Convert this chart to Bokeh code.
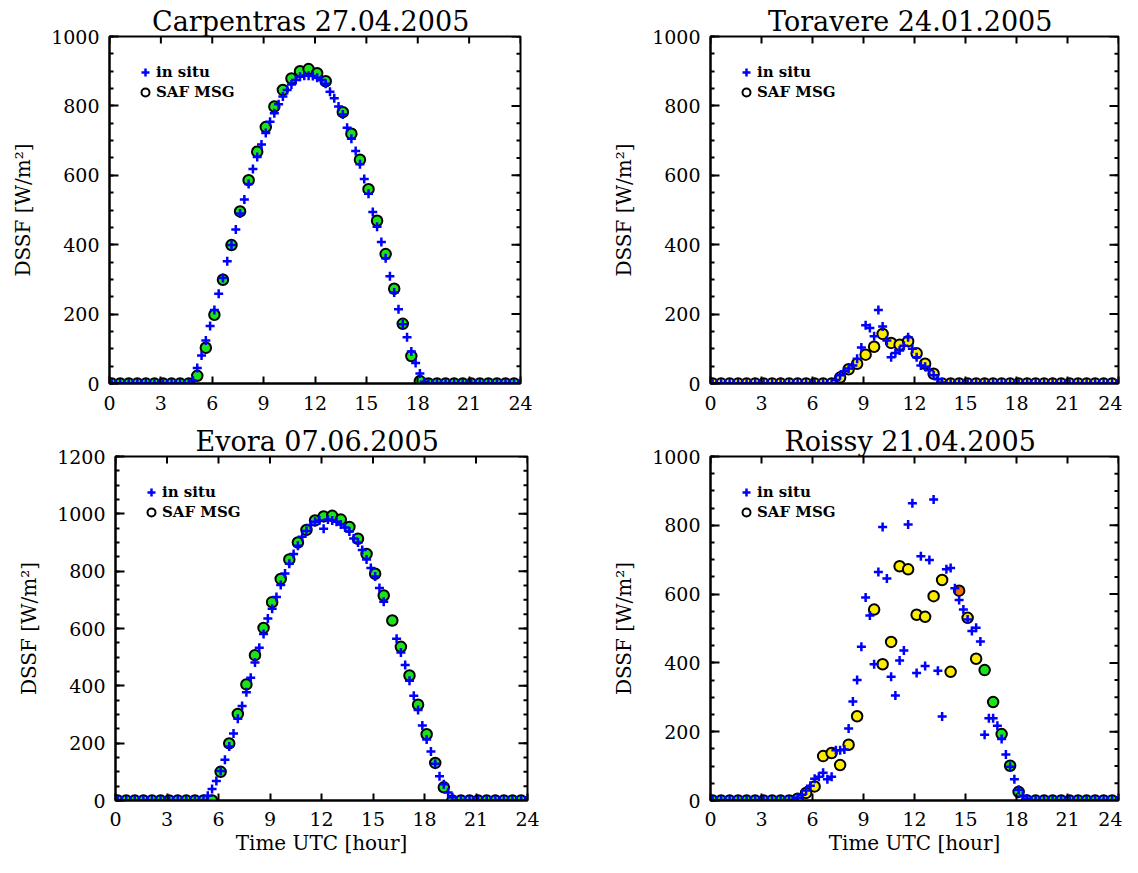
import numpy as np
from bokeh.plotting import figure
from bokeh.models import (ColumnDataSource, Range1d, FixedTicker, Legend,
                          LegendItem)
from bokeh.layouts import column, row
from bokeh.embed import file_html
from bokeh.resources import INLINE

NAN = float("nan")
FONT = "DejaVu Serif"

# sampling grids (hours UTC): in situ every 15 min, SAF MSG every 30 min
hours_insitu = [0.125 + 0.25 * k for k in range(96)]
hours_msg = [0.125 + 0.5 * k for k in range(48)]

x_ticks = [0, 3, 6, 9, 12, 15, 18, 21, 24]

# ---------------- Carpentras 27.04.2005 ----------------
carp_insitu = [0] * 19 + [
    8, 45, 81, 124, 166, 212, 259, 304, 352, 399, 444, 490, 530, 575, 618,
    653, 689, 722, 754, 779, 805, 827, 846, 862, 875, 884, 887, 887, 886,
    881, 875, 864, 841, 822, 798, 775, 737, 705, 670, 632, 589, 547, 494,
    452, 408, 361, 309, 262, 214, 171, 133, 92, 59, 29, 5] + [0] * 22
carp_msg = [0] * 10 + [
    22, 103, 198, 299, 399, 496, 586, 668, 739, 798, 846, 879, 900, 906,
    894, 871, NAN, 782, 720, 645, 560, 469, 373, 273, 172, 79, 7] + [0] * 11
carp_class = ["clear"] * 48

# ---------------- Toravere 24.01.2005 ----------------
tora_insitu = [0] * 29 + [
    10, 24, 35, 43, 52, 71, 104, 168, 160, 136, 212, 164, 124, 76, 88, 95,
    109, 133, 100, 76, 52, 48, 38, 24, 12, 3] + [0] * 41
tora_msg = [0] * 15 + [
    17, 41, 57, 83, 106, 143, 117, 112, 122, 87, 57, 28] + [0] * 21
tora_class = ["cloudy"] * 48

# ---------------- Evora 07.06.2005 ----------------
evor_insitu = [0] * 21 + [
    17, 40, 68, 103, 142, 188, 234, 285, 330, 378, 428, 481, 533, 581, 635,
    669, 710, 752, 792, 826, 860, 889, 920, 940, 961, 972, 977, 948, 980,
    977, 972, 963, 952, 938, 914, 900, 874, 841, 811, 781, 741, 693, NAN,
    NAN, 564, 516, 473, 418, 365, 316, 262, 213, 171, 128, 85, 57, 28,
    11] + [0] * 17
evor_msg = [0] * 12 + [
    100, 199, 302, 405, 507, 602, 692, 773, 841, 900, 944, 977, 991, 993,
    980, 954, 913, 860, 791, 715, 628, 536, 436, 334, 231, 131, 46] + [0] * 9
evor_class = ["clear"] * 48

# ---------------- Roissy 21.04.2005 ----------------
rois_insitu = [0] * 20 + [
    8, 17, 29, 43, 63, 69, 81, 62, 69, 146, 146, 148, 209, 288, 350, 447,
    590, 538, 396, 664, 795, 645, 360, 305, 407, 436, 802, 864, 371, 710,
    391, 699, 875, 377, 244, 672, 676, 617, 583, 555, 526, 493, 502, 462,
    191, 239, 239, 217, 179, 134, 98, 62, 31, 14, 5] + [0] * 21
rois_msg = [0] * 10 + [
    5, 22, 41, 129, 138, 103, 162, 245, NAN, 555, 396, 461, 681, 672, 540,
    534, 594, 641, 374, 610, 531, 412, 379, 286, 193, 101, 25, 0] + [0] * 10
rois_class = (["clear"] * 11 + ["cloudy"] * 18 + ["partly"] +
              ["cloudy"] * 2 + ["clear"] * 16)

for arr in (carp_insitu, tora_insitu, evor_insitu, rois_insitu):
    assert len(arr) == 96, len(arr)
for arr in (carp_msg, tora_msg, evor_msg, rois_msg, carp_class, tora_class,
            evor_class, rois_class):
    assert len(arr) == 48, len(arr)

CLASS_COLORS = {"clear": "#18e418", "cloudy": "#fbec00", "partly": "#f07400"}
BLUE = "#0000ff"


def make_panel(title, insitu, msg, cls, ymax, width, height, bl, br, bt, bb,
               xlabel, tick_standoff, label_standoff):
    p = figure(width=width, height=height, output_backend="svg",
               toolbar_location=None, x_range=Range1d(0, 24),
               y_range=Range1d(0, ymax),
               min_border_left=bl, min_border_right=br,
               min_border_top=bt, min_border_bottom=bb,
               x_axis_label=xlabel, y_axis_label="DSSF [W/m²]")
    p.title.text = title
    p.title.align = "center"
    p.title.text_font = FONT
    p.title.text_font_size = "27px"
    p.title.text_font_style = "normal"
    p.title.text_color = "black"
    p.title.standoff = 0
    p.grid.visible = False
    p.outline_line_color = "black"
    p.outline_line_width = 2
    p.background_fill_color = "white"
    p.border_fill_color = "white"

    xt = FixedTicker(ticks=x_ticks, minor_ticks=[])
    y_major = list(range(0, ymax + 1, 200))
    y_minor = list(range(0, ymax + 1, 50))
    yt = FixedTicker(ticks=y_major, minor_ticks=y_minor)

    def style(ax, ticker):
        ax.ticker = ticker
        ax.axis_line_color = "black"
        ax.axis_line_width = 2
        ax.major_tick_line_color = "black"
        ax.major_tick_line_width = 2
        ax.minor_tick_line_color = "black"
        ax.minor_tick_line_width = 2
        ax.major_tick_out = 0
        ax.minor_tick_out = 0
        ax.major_label_text_font = FONT
        ax.major_label_text_color = "black"
        ax.major_label_text_font_size = "19px"
        ax.axis_label_text_font = FONT
        ax.axis_label_text_font_style = "normal"
        ax.axis_label_text_color = "black"
        ax.axis_label_text_font_size = "20px"

    for ax in p.xaxis:
        style(ax, xt)
        ax.major_tick_in = 7
        ax.major_label_standoff = tick_standoff
        ax.axis_label_standoff = label_standoff
        ax.axis_label_text_line_height = 0.7
    for ax in p.yaxis:
        style(ax, yt)
        ax.major_tick_in = 9
        ax.minor_tick_in = 4
        ax.major_label_standoff = 10
        ax.axis_label_standoff = 13

    # mirrored inward ticks on the top and right edges of the box
    p.ray(x=x_ticks, y=[ymax] * len(x_ticks), length=7, length_units="screen",
          angle=-90, angle_units="deg", line_color="black", line_width=2)
    p.ray(x=[24] * len(y_major), y=y_major, length=9, length_units="screen",
          angle=180, angle_units="deg", line_color="black", line_width=2)
    p.ray(x=[24] * len(y_minor), y=y_minor, length=4, length_units="screen",
          angle=180, angle_units="deg", line_color="black", line_width=2)

    msg_src = ColumnDataSource(dict(
        t=np.array(hours_msg, dtype=float), v=np.array(msg, dtype=float),
        c=[CLASS_COLORS[k] for k in cls]))
    ins_src = ColumnDataSource(dict(
        t=np.array(hours_insitu, dtype=float),
        v=np.array(insitu, dtype=float)))

    p.scatter("t", "v", source=msg_src, marker="circle", size=10.5,
              fill_color="c", line_color="black", line_width=2)
    p.scatter("t", "v", source=ins_src, marker="cross", size=9,
              line_color=BLUE, line_width=2.5)

    leg_plus = p.scatter([NAN], [NAN], marker="cross", size=9,
                         line_color=BLUE, line_width=2.5)
    leg_circ = p.scatter([NAN], [NAN], marker="circle", size=10,
                         fill_color="white", line_color="black", line_width=2)
    legend = Legend(items=[LegendItem(label="in situ", renderers=[leg_plus]),
                           LegendItem(label="SAF MSG", renderers=[leg_circ])],
                    location="top_left", margin=0, padding=26, spacing=-2,
                    glyph_width=20, glyph_height=20, label_standoff=1,
                    label_height=18, border_line_alpha=0,
                    background_fill_alpha=0, label_text_font=FONT,
                    label_text_font_style="bold", label_text_font_size="15px",
                    label_text_color="black")
    p.add_layout(legend)
    return p


p1 = make_panel("Carpentras  27.04.2005", carp_insitu, carp_msg, carp_class,
                1000, 597, 417, 109, 77, 36, 34, None, 12, 0)
p2 = make_panel("Toravere  24.01.2005", tora_insitu, tora_msg, tora_class,
                1000, 525, 417, 113, 4, 36, 34, None, 12, 0)
p3 = make_panel("Evora  07.06.2005", evor_insitu, evor_msg, evor_class,
                1200, 597, 440, 115, 70, 39, 52, "Time UTC [hour]", 11, 2)
p4 = make_panel("Roissy  21.04.2005", rois_insitu, rois_msg, rois_class,
                1000, 525, 440, 113, 4, 39, 52, "Time UTC [hour]", 11, 2)

layout = column(row(p1, p2), row(p3, p4))
open("out.html", "w").write(file_html(layout, INLINE))
